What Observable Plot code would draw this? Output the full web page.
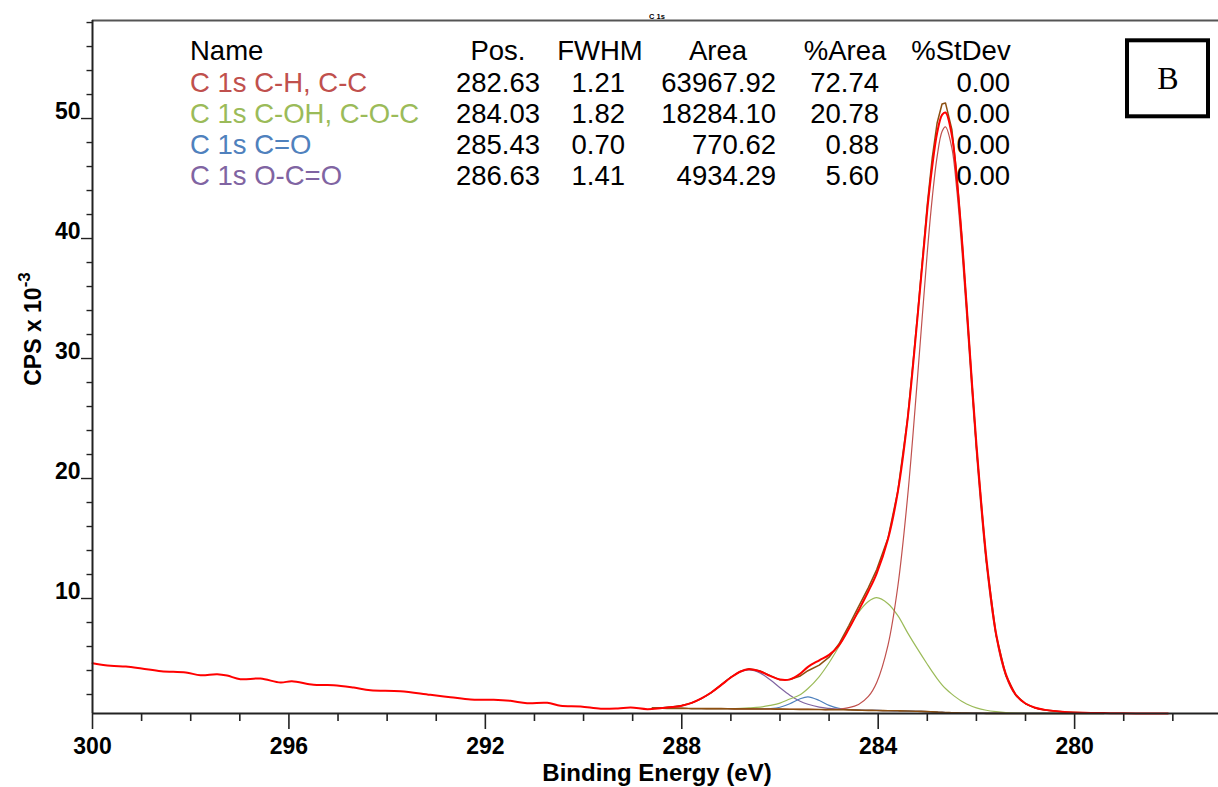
<!DOCTYPE html>
<html><head><meta charset="utf-8">
<script src="https://cdn.jsdelivr.net/npm/d3@7"></script>
<script src="https://cdn.jsdelivr.net/npm/@observablehq/plot@0.6"></script>
<style>
html,body{margin:0;padding:0;background:#fff;}
#chart{width:1218px;height:787px;overflow:hidden;}
</style></head>
<body><div id="chart"></div>
<script>
// ---------- texts ----------
const chartTitle = "C 1s";
const xAxisLabel = "Binding Energy (eV)";
const yAxisLabel = "CPS x 10";
const yAxisExp = "-3";
const panelLetter = "B";

// ---------- peak table ----------
const tableHeader = ["Name", "Pos.", "FWHM", "Area", "%Area", "%StDev"];
const compNames = ["C 1s C-H, C-C", "C 1s C-OH, C-O-C", "C 1s C=O", "C 1s O-C=O"];
const compPos = ["282.63", "284.03", "285.43", "286.63"];
const compFwhm = ["1.21", "1.82", "0.70", "1.41"];
const compArea = ["63967.92", "18284.10", "770.62", "4934.29"];
const compPctArea = ["72.74", "20.78", "0.88", "5.60"];
const compStDev = ["0.00", "0.00", "0.00", "0.00"];
const compColors = ["#c0504d", "#9bbb59", "#4f81bd", "#8064a2"];

// ---------- axes ----------
const xDomain = [300, 277.07];
const yDomain = [0.417, 58.17];
const xMajorTicks = [300, 296, 292, 288, 284, 280];
const xMinorTicks = [299, 298, 297, 295, 294, 293, 291, 290, 289, 287, 286, 285, 283, 282, 281, 279, 278];
const yMajorTicks = [10, 20, 30, 40, 50];
const yMinorTicks = [2, 4, 6, 8, 12, 14, 16, 18, 22, 24, 26, 28, 32, 34, 36, 38, 42, 44, 46, 48, 52, 54, 56, 58];

// ---------- measured spectrum (red) ----------
const dataEnergy = [300.0, 299.63, 299.32, 299.0, 298.6, 298.1, 297.8, 297.46, 297.26, 296.99, 296.58, 296.17, 295.94, 295.5, 295.09, 294.68, 294.34, 293.73, 293.12, 292.71, 292.3, 291.83, 291.49, 291.15, 290.74, 290.47, 290.06, 289.65, 289.3, 289.04, 288.7, 288.4, 288.2, 288.0, 287.8, 287.6, 287.4, 287.2, 287.0, 286.8, 286.63, 286.4, 286.2, 286.0, 285.8, 285.6, 285.43, 285.2, 285.0, 284.8, 284.6, 284.4, 284.2, 284.03, 283.8, 283.6, 283.4, 283.2, 283.0, 282.9, 282.8, 282.7, 282.63, 282.5, 282.4, 282.3, 282.2, 282.0, 281.8, 281.6, 281.4, 281.2, 281.0, 280.8, 280.6, 280.2, 279.8, 279.4, 279.0, 278.5, 278.1];
const dataCps = [4.61, 4.39, 4.33, 4.17, 3.94, 3.83, 3.61, 3.69, 3.58, 3.28, 3.33, 3.0, 3.11, 2.81, 2.78, 2.58, 2.36, 2.28, 1.97, 1.78, 1.58, 1.56, 1.47, 1.28, 1.31, 1.06, 1.0, 0.81, 0.84, 0.92, 0.78, 0.88, 0.95, 1.07, 1.3, 1.68, 2.17, 2.78, 3.42, 3.92, 4.1, 3.92, 3.55, 3.25, 3.26, 3.7, 4.3, 4.85, 5.3, 6.1, 7.45, 9.0, 10.6, 12.1, 14.95, 18.9, 25.0, 33.4, 42.4, 46.0, 48.8, 50.3, 50.5, 48.6, 45.0, 40.2, 34.5, 22.9, 13.5, 7.1, 3.7, 2.0, 1.25, 0.9, 0.72, 0.55, 0.48, 0.45, 0.43, 0.42, 0.42];

// ---------- fit region (components drawn on the background) ----------
const fitEnergy = [288.6, 288.4, 288.2, 288.0, 287.8, 287.6, 287.4, 287.2, 287.0, 286.8, 286.63, 286.4, 286.2, 286.0, 285.8, 285.6, 285.43, 285.2, 285.0, 284.8, 284.6, 284.4, 284.2, 284.03, 283.8, 283.6, 283.4, 283.2, 283.0, 282.9, 282.8, 282.7, 282.63, 282.5, 282.4, 282.3, 282.2, 282.0, 281.8, 281.6, 281.4, 281.2, 281.0, 280.8, 280.6, 280.2, 279.8, 279.4];
const fitBackground = [0.85, 0.85, 0.84, 0.84, 0.83, 0.83, 0.82, 0.82, 0.81, 0.80, 0.80, 0.79, 0.79, 0.78, 0.77, 0.76, 0.76, 0.75, 0.74, 0.73, 0.72, 0.70, 0.68, 0.67, 0.65, 0.64, 0.62, 0.60, 0.57, 0.55, 0.53, 0.51, 0.50, 0.48, 0.47, 0.46, 0.45, 0.44, 0.43, 0.43, 0.42, 0.42, 0.42, 0.42, 0.42, 0.42, 0.42, 0.42];
const fitCH = [0.85, 0.85, 0.84, 0.84, 0.83, 0.83, 0.82, 0.82, 0.81, 0.80, 0.80, 0.79, 0.79, 0.78, 0.77, 0.76, 0.76, 0.75, 0.75, 0.79, 0.90, 1.17, 1.84, 3.01, 6.12, 11.02, 18.52, 28.37, 38.87, 43.35, 46.83, 48.91, 49.30, 47.55, 44.07, 39.26, 33.65, 22.20, 12.94, 6.83, 3.52, 1.92, 1.22, 0.87, 0.70, 0.54, 0.47, 0.44];
const fitCOH = [0.85, 0.85, 0.84, 0.84, 0.83, 0.83, 0.82, 0.83, 0.83, 0.85, 0.88, 0.95, 1.09, 1.28, 1.62, 1.95, 2.50, 3.50, 4.65, 6.00, 7.50, 8.85, 9.75, 10.07, 9.57, 8.57, 7.14, 5.80, 4.52, 3.90, 3.33, 2.81, 2.50, 2.03, 1.72, 1.44, 1.21, 0.89, 0.69, 0.57, 0.49, 0.45, 0.43, 0.42, 0.42, 0.42, 0.42, 0.42];
const fitCO = [0.85, 0.85, 0.84, 0.84, 0.83, 0.83, 0.82, 0.82, 0.81, 0.80, 0.80, 0.80, 0.83, 0.94, 1.23, 1.63, 1.81, 1.50, 1.09, 0.84, 0.75, 0.71, 0.68, 0.67, 0.65, 0.64, 0.62, 0.60, 0.57, 0.55, 0.53, 0.51, 0.50, 0.48, 0.47, 0.46, 0.45, 0.44, 0.43, 0.43, 0.42, 0.42, 0.42, 0.42, 0.42, 0.42, 0.42, 0.42];
const fitOCO = [0.87, 0.90, 0.96, 1.08, 1.29, 1.66, 2.15, 2.79, 3.43, 3.90, 4.05, 3.78, 3.23, 2.56, 1.94, 1.46, 1.19, 0.95, 0.84, 0.77, 0.74, 0.71, 0.68, 0.67, 0.65, 0.64, 0.62, 0.60, 0.57, 0.55, 0.53, 0.51, 0.50, 0.48, 0.47, 0.46, 0.45, 0.44, 0.43, 0.43, 0.42, 0.42, 0.42, 0.42, 0.42, 0.42, 0.42, 0.42];
const fitEnvelope = [0.87, 0.90, 0.96, 1.08, 1.29, 1.66, 2.15, 2.80, 3.45, 3.95, 4.14, 3.95, 3.57, 3.22, 3.25, 3.52, 3.98, 4.45, 5.11, 6.21, 7.72, 9.33, 10.91, 12.41, 15.04, 18.95, 25.04, 33.57, 42.82, 46.70, 49.63, 51.21, 51.30, 49.10, 45.32, 40.24, 34.41, 22.65, 13.20, 6.97, 3.59, 1.95, 1.23, 0.87, 0.70, 0.54, 0.47, 0.44];

// ---------- build tables ----------
const spectrum = dataEnergy.map((e, i) => ({e, v: dataCps[i]}));
const fit = fitEnergy.map((e, i) => ({
  e, bg: fitBackground[i], ch: fitCH[i], coh: fitCOH[i], co: fitCO[i], oco: fitOCO[i], env: fitEnvelope[i]
}));

const FONT = "'Liberation Sans', Arial, Helvetica, sans-serif";
const SERIF = "'Liberation Serif', 'Times New Roman', serif";

function annotations() {
  const g = d3.create("svg:g");
  // title
  g.append("text").attr("x", 657).attr("y", 18.5).attr("text-anchor", "middle")
    .attr("font-family", FONT).attr("font-size", 7.5).attr("font-weight", "bold").attr("fill", "#000")
    .text(chartTitle);
  // peak table
  const t = g.append("g").attr("font-family", FONT).attr("font-size", 27.5);
  const headCenter = [190, 498, 600, 718, 845, 961];
  const colRight = [190, 540, 625, 776, 879, 1010];
  const headY = 59.5;
  const rowY = [91.5, 122.5, 153.5, 184.5];
  tableHeader.forEach((h, j) => {
    t.append("text").attr("x", headCenter[j]).attr("y", headY)
      .attr("text-anchor", j === 0 ? "start" : "middle").attr("fill", "#000").text(h);
  });
  const cols = [compNames, compPos, compFwhm, compArea, compPctArea, compStDev];
  cols.forEach((col, j) => {
    col.forEach((v, i) => {
      t.append("text").attr("x", colRight[j]).attr("y", rowY[i])
        .attr("text-anchor", j === 0 ? "start" : "end")
        .attr("fill", j === 0 ? compColors[i] : "#000").text(v);
    });
  });
  // panel letter box
  g.append("rect").attr("x", 1127).attr("y", 40.3).attr("width", 81).attr("height", 76)
    .attr("fill", "#fff").attr("stroke", "#000").attr("stroke-width", 4);
  g.append("text").attr("x", 1168).attr("y", 88.5).attr("text-anchor", "middle")
    .attr("font-family", SERIF).attr("font-size", 32).attr("fill", "#000").text(panelLetter);
  // y axis label (rotated, with superscript)
  const yl = g.append("text").attr("transform", "translate(41,329) rotate(-90)")
    .attr("text-anchor", "middle").attr("font-family", FONT).attr("font-weight", "bold")
    .attr("font-size", 23).attr("fill", "#000");
  yl.append("tspan").text(yAxisLabel);
  yl.append("tspan").attr("font-size", 17).attr("dy", -11).text(yAxisExp);
  // x axis label
  g.append("text").attr("x", 657).attr("y", 781).attr("text-anchor", "middle")
    .attr("font-family", FONT).attr("font-weight", "bold").attr("font-size", 24).attr("fill", "#000")
    .text(xAxisLabel);
  return g.node();
}

const chart = Plot.plot({
  width: 1218, height: 787,
  marginLeft: 92, marginRight: 0, marginTop: 20, marginBottom: 74,
  x: {domain: xDomain, label: null},
  y: {domain: yDomain, label: null},
  style: {fontFamily: FONT, background: "#fff", color: "#000", overflow: "visible"},
  marks: [
    Plot.ruleY([yDomain[1]], {stroke: "#555", strokeWidth: 2}),
    Plot.axisX({ticks: xMajorTicks, tickSize: 16, tickPadding: 8, tickFormat: d => String(d), label: null,
      fontSize: 23, fontWeight: "bold", fill: "#000", stroke: "#222", strokeWidth: 1.6}),
    Plot.axisX({ticks: xMinorTicks, tickSize: 8, tickFormat: () => "", label: null, stroke: "#222", strokeWidth: 1.6}),
    Plot.axisY({ticks: yMajorTicks, tickSize: 11, tickFormat: () => "", label: null, stroke: "#222", strokeWidth: 1.4}),
    Plot.axisY({ticks: yMinorTicks, tickSize: 5.5, tickFormat: () => "", label: null, stroke: "#222", strokeWidth: 1.4}),
    Plot.text(yMajorTicks, {y: d => d, text: d => String(d), frameAnchor: "left", textAnchor: "end",
      lineAnchor: "bottom", dx: -12, fontSize: 23, fontWeight: "bold", fill: "#000"}),
    Plot.line(fit, {x: "e", y: "oco", stroke: compColors[3], strokeWidth: 1.2, curve: "catmull-rom"}),
    Plot.line(fit, {x: "e", y: "co", stroke: compColors[2], strokeWidth: 1.2, curve: "catmull-rom"}),
    Plot.line(fit, {x: "e", y: "coh", stroke: compColors[1], strokeWidth: 1.2, curve: "catmull-rom"}),
    Plot.line(fit, {x: "e", y: "ch", stroke: compColors[0], strokeWidth: 1.2, curve: "catmull-rom"}),
    Plot.line(fit, {x: "e", y: "bg", stroke: "#8c4f10", strokeWidth: 1.6, curve: "catmull-rom"}),
    Plot.line(fit, {x: "e", y: "env", stroke: "#8c4f10", strokeWidth: 1.5, curve: "linear"}),
    Plot.line(spectrum, {x: "e", y: "v", stroke: "#ff0000", strokeWidth: 2, curve: "catmull-rom"}),
    Plot.ruleX([xDomain[0]], {stroke: "#222", strokeWidth: 2}),
    Plot.ruleY([yDomain[0]], {stroke: "#222", strokeWidth: 2.2}),
    annotations
  ]
});
document.getElementById("chart").appendChild(chart);
</script>
</body></html>
